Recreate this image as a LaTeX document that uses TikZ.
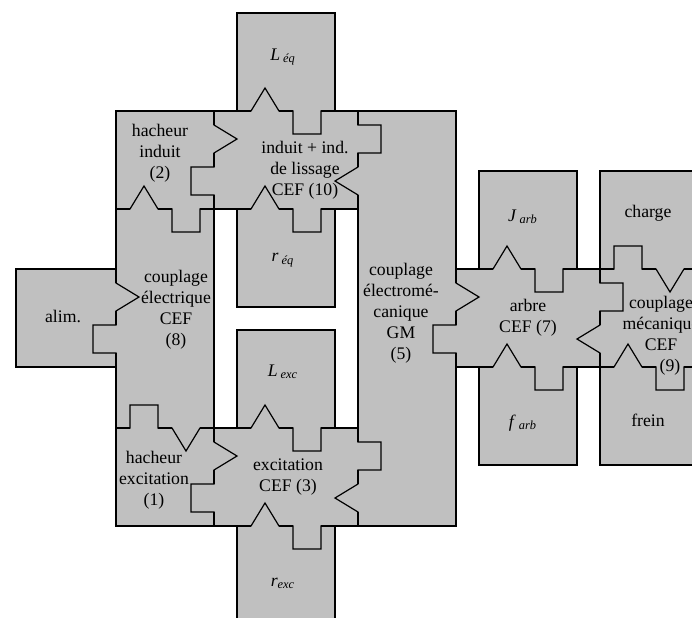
\documentclass[tikz,border=0pt]{standalone}
\usepackage{fontspec}
\setmainfont{Liberation Serif}
\usepackage{tikz}
\definecolor{piecegray}{RGB}{192,192,192}

\tikzset{
  piece/.style={fill=piecegray, draw=black, line width=0.6pt},
  lbl/.style={align=center, inner sep=0pt, font=\fontsize{8.85}{10.5}\selectfont},
  joint/.pic={
    \draw[piecegray, line width=1.4pt] (14,0) -- (42,0) (56,0) -- (84,0);
    \draw[line width=0.6pt] (0,0) -- (14,0) -- (28,-23) -- (42,0) -- (56,0)
      -- (56,23) -- (84,23) -- (84,0) -- (98,0);
  }
}

\begin{document}
\begin{tikzpicture}[x=0.5pt, y=-0.5pt]
\path[use as bounding box] (0,0) rectangle (692,617);
\clip (0,0) rectangle (692,617);

% blocs
\filldraw[piece] (237,13) rectangle (335,111);
\filldraw[piece] (116,111) rectangle (214,209);
\filldraw[piece] (214,111) rectangle (358,209);
\filldraw[piece] (237,209) rectangle (335,307);
\filldraw[piece] (116,209) rectangle (214,428);
\filldraw[piece] (16,269) rectangle (116,367);
\filldraw[piece] (237,330) rectangle (335,428);
\filldraw[piece] (116,428) rectangle (214,526);
\filldraw[piece] (214,428) rectangle (358,526);
\filldraw[piece] (237,526) rectangle (335,624);
\filldraw[piece] (358,111) rectangle (456,526);
\filldraw[piece] (479,171) rectangle (577,269);
\filldraw[piece] (456,269) rectangle (600,367);
\filldraw[piece] (479,367) rectangle (577,465);
\filldraw[piece] (600,171) rectangle (698,269);
\filldraw[piece] (600,269) rectangle (698,367);
\filldraw[piece] (600,367) rectangle (698,465);

% liaisons horizontales
\pic at (237,111) {joint};
\pic at (237,209) {joint};
\pic at (116,209) {joint};
\pic at (237,428) {joint};
\pic at (237,526) {joint};
\pic at (479,269) {joint};
\pic at (479,367) {joint};
\pic at (600,367) {joint};
\pic[rotate=180] at (214,428) {joint};
\pic[rotate=180] at (698,269) {joint};
% liaisons verticales
\pic[rotate=-90] at (214,111) {joint};
\pic[rotate=-90] at (116,269) {joint};
\pic[rotate=-90] at (214,428) {joint};
\pic[rotate=-90] at (456,269) {joint};
\pic[rotate=90] at (358,209) {joint};
\pic[rotate=90] at (358,526) {joint};
\pic[rotate=90] at (600,367) {joint};

% textes
\node[lbl] (leq) at (283,57) {\textit{L}\,\textsubscript{\textit{éq}}};
\node[lbl] (hachind) at (160,153) {hacheur\\induit\\(2)};
\node[lbl] (induit) at (305,170) {induit + ind.\\de lissage\\CEF (10)};
\node[lbl] (req) at (283,260) {\textit{r}\,\textsubscript{\textit{éq}}};
\node[lbl] (coupelec) at (176,310) {couplage\\électrique\\CEF\\(8)};
\node[lbl] (alim) at (63,316) {alim.};
\node[lbl] (lexc) at (283,372) {\textit{L}\,\textsubscript{\textit{exc}}};
\node[lbl] (hachexc) at (154,480) {hacheur\\excitation\\(1)};
\node[lbl] (excit) at (288,477) {excitation\\CEF (3)};
\node[lbl] (rexc) at (283,583) {\textit{r}\textsubscript{\textit{exc}}};
\node[lbl] (gm) at (401,313) {couplage\\électromé-\\canique\\GM\\(5)};
\node[lbl] (jarb) at (523,217) {\textit{J}\,\textsubscript{\textit{arb}}};
\node[lbl] (arbre) at (528,318) {arbre\\CEF (7)};
\node[lbl] (farb) at (523,423) {\textit{f}\,\textsubscript{\textit{arb}}};
\node[lbl] (charge) at (648,213) {charge};
\node[lbl] (coupmeca) at (661,336) {couplage\\mécanique\\CEF\\\hspace*{9pt}(9)};
\node[lbl] (frein) at (648,420) {frein};
\end{tikzpicture}
\end{document}
